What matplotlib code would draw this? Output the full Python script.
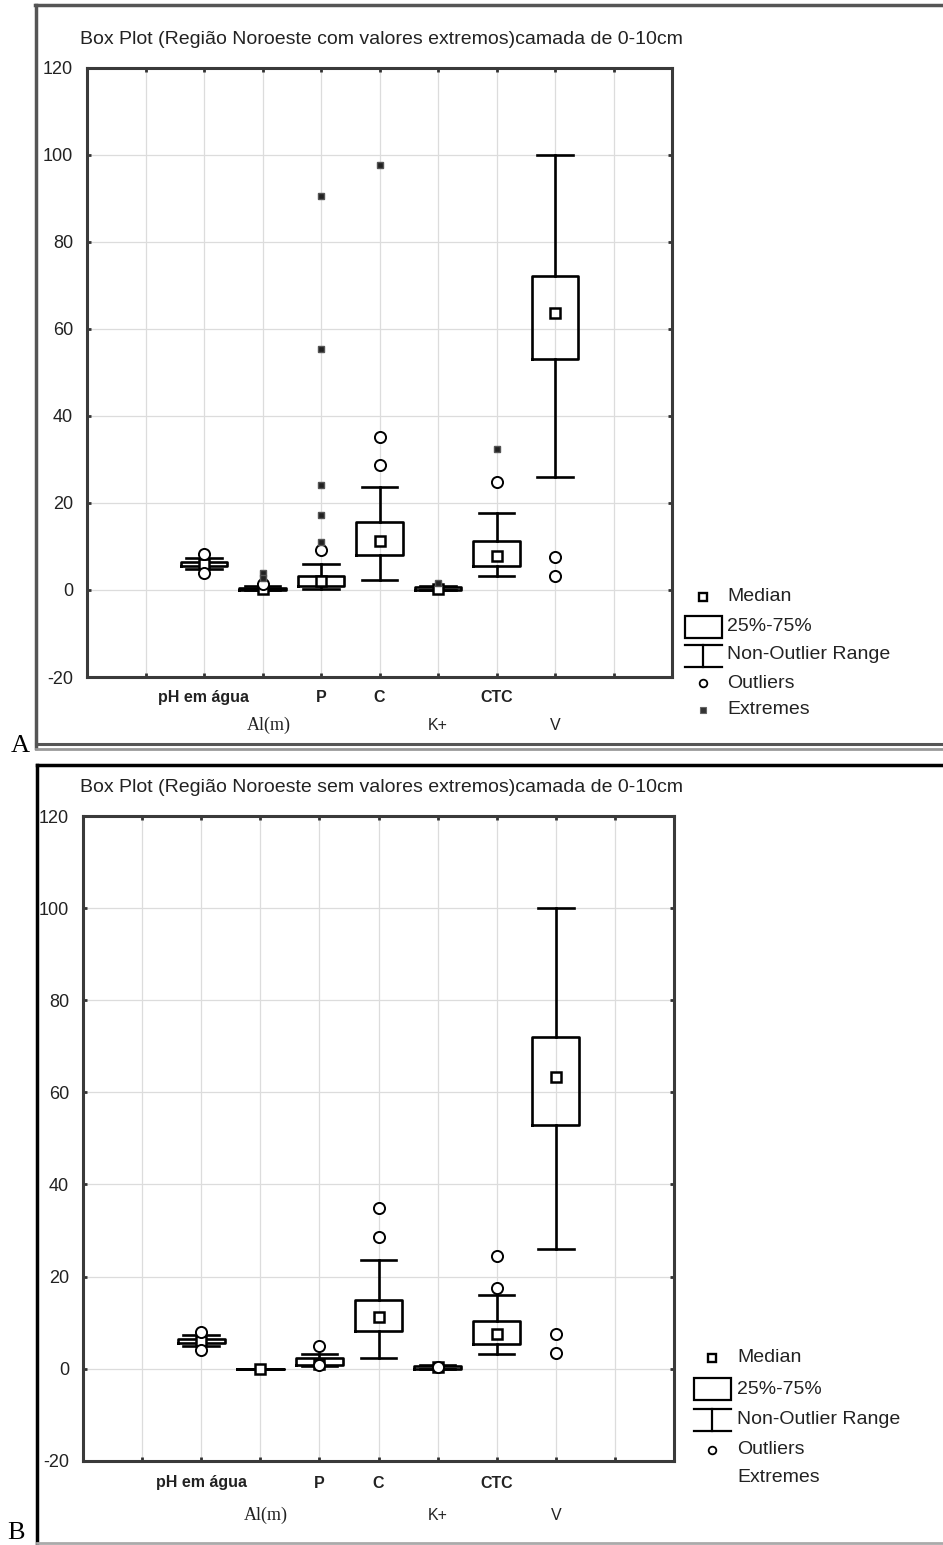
import matplotlib
matplotlib.use("Agg")
import matplotlib.pyplot as plt
from matplotlib.lines import Line2D
from matplotlib.patches import Rectangle
from matplotlib.transforms import blended_transform_factory

# ---------------- data ----------------
categories = ["pH em água", "Al(m)", "P", "C", "K+", "CTC", "V"]
label_row = [1, 2, 1, 1, 2, 1, 2]          # which line of tick labels
positions = [2, 3, 4, 5, 6, 7, 8]
y_ticks = [-20, 0, 20, 40, 60, 80, 100, 120]

# Panel A (com valores extremos)
q1_a = [5.4, 0.0, 0.8, 8.1, 0.0, 5.4, 53.0]
med_a = [6.0, 0.2, 2.1, 11.3, 0.3, 7.9, 63.5]
q3_a = [6.5, 0.5, 3.2, 15.6, 0.6, 11.3, 72.0]
wlo_a = [4.8, 0.0, 0.3, 2.2, 0.0, 3.2, 26.0]
whi_a = [7.3, 1.0, 5.9, 23.7, 1.0, 17.7, 100.0]
out_a = [[8.2, 4.0], [1.4], [9.2], [28.7, 35.1], [], [24.7], [7.5, 3.1]]
ext_a = [[], [4.0, 2.7], [11.1, 17.3, 24.0, 55.3, 90.5], [97.5], [1.7], [32.4], []]

# Panel B (sem valores extremos)
q1_b = [5.5, 0.0, 0.8, 8.2, 0.0, 5.4, 53.0]
med_b = [6.0, 0.0, 1.0, 11.3, 0.3, 7.6, 63.3]
q3_b = [6.5, 0.0, 2.4, 14.9, 0.5, 10.3, 72.0]
wlo_b = [4.8, 0.0, 0.5, 2.2, 0.0, 3.1, 26.0]
whi_b = [7.3, 0.0, 3.2, 23.5, 0.8, 15.9, 100.0]
out_b = [[8.0, 4.0], [], [4.9, 0.8], [28.6, 34.8], [0.4], [17.6, 24.5], [7.5, 3.3]]
ext_b = [[], [], [], [], [], [], []]

title_a = "Box Plot (Região Noroeste com valores extremos)camada de 0-10cm"
title_b = "Box Plot (Região Noroeste sem valores extremos)camada de 0-10cm"
legend_labels = ["Median", "25%-75%", "Non-Outlier Range", "Outliers", "Extremes"]

# ---------------- layout ----------------
W, H = 943, 1545
fig = plt.figure(figsize=(W / 100, H / 100), dpi=100)
fig.patch.set_facecolor("white")
SANS = ["Liberation Sans", "DejaVu Sans"]
SERIF = ["Liberation Serif", "DejaVu Serif"]


def fx(x):
    return x / W


def fy(y):
    return 1 - y / H


def fline(xs, ys, **kw):
    fig.add_artist(Line2D([fx(v) for v in xs], [fy(v) for v in ys],
                          transform=fig.transFigure, **kw))


def draw_panel(box, q1, med, q3, wlo, whi, outs, exts, title, title_y,
               row_y, leg, show_ext_marker):
    x0, x1, ytop, ybot = box
    ax = fig.add_axes([fx(x0), fy(ybot), fx(x1) - fx(x0), fy(ytop) - fy(ybot)])

    stats = []
    for i in range(len(categories)):
        stats.append(dict(med=med[i], q1=q1[i], q3=q3[i], whislo=wlo[i],
                          whishi=whi[i], fliers=[]))
    ax.bxp(stats, positions=positions, widths=0.8, capwidths=0.6,
           showfliers=False, manage_ticks=False,
           boxprops=dict(color="black", linewidth=1.9),
           whiskerprops=dict(color="black", linewidth=1.9),
           capprops=dict(color="black", linewidth=1.9),
           medianprops=dict(linestyle="none"))
    ax.plot(positions, med, linestyle="none", marker="s", markersize=7,
            mfc="white", mec="black", mew=1.8, zorder=5)
    for p, vals in zip(positions, outs):
        if vals:
            ax.plot([p] * len(vals), vals, linestyle="none", marker="o",
                    markersize=8, mfc="white", mec="black", mew=1.4, zorder=5)
    for p, vals in zip(positions, exts):
        if vals:
            ax.plot([p] * len(vals), vals, linestyle="none", marker="s",
                    markersize=4.5, mfc="#222222", mec="#555555", mew=1.0,
                    zorder=5)

    ax.set_xlim(0, 10)
    ax.set_ylim(-20, 120)
    ax.set_xticks(range(1, 10))
    ax.set_xticklabels([])
    ax.set_yticks(y_ticks)
    ax.set_yticklabels([str(v) for v in y_ticks], fontsize=13, family=SANS,
                       color="#222222")
    ax.grid(True, color="#dcdcdc", linewidth=0.9)
    ax.set_axisbelow(True)
    ax.tick_params(direction="in", length=3, width=2, top=True, right=True,
                   color="#333333", pad=10)
    for s in ax.spines.values():
        s.set_color("#3a3a3a")
        s.set_linewidth(2.2)

    # category labels, two rows
    tr = blended_transform_factory(ax.transData, fig.transFigure)
    for p, lab, r in zip(positions, categories, label_row):
        if lab == "Al(m)":
            ax.text(p + 0.1, fy(row_y[1]), lab, transform=tr, ha="center",
                    va="center", fontsize=13, family=SERIF, color="#222222")
        else:
            ax.text(p, fy(row_y[r - 1]), lab, transform=tr, ha="center",
                    va="center", fontsize=11.5, family=SANS, color="#222222",
                    fontweight="bold" if r == 1 else "normal")

    fig.text(fx(80), fy(title_y), title, ha="left", va="center", fontsize=14,
             family=SANS, color="#222222")

    # legend
    mx, tx, ys, bx0, bx1 = leg
    fs = 14
    fig.add_artist(Line2D([fx(mx)], [fy(ys[0])], transform=fig.transFigure,
                          marker="s", markersize=5.5, mfc="white", mec="black",
                          mew=1.7, linestyle="none"))
    fig.add_artist(Rectangle((fx(bx0), fy(ys[1] + 11)), fx(bx1) - fx(bx0),
                             fy(ys[1] - 11) - fy(ys[1] + 11),
                             transform=fig.transFigure, fill=False,
                             edgecolor="black", linewidth=1.6))
    fline([bx0, bx1], [ys[2] - 10, ys[2] - 10], color="black", linewidth=1.6)
    fline([mx, mx], [ys[2] - 10, ys[2] + 12], color="black", linewidth=1.6)
    fline([bx0, bx1], [ys[2] + 12, ys[2] + 12], color="black", linewidth=1.6)
    fig.add_artist(Line2D([fx(mx)], [fy(ys[3])], transform=fig.transFigure,
                          marker="o", markersize=5.5, mfc="white", mec="black",
                          mew=1.3, linestyle="none"))
    if show_ext_marker:
        fig.add_artist(Line2D([fx(mx)], [fy(ys[4])], transform=fig.transFigure,
                              marker="s", markersize=3.8, mfc="#333333",
                              mec="#666666", mew=0.8, linestyle="none"))
    for lab, y in zip(legend_labels, ys):
        fig.text(fx(tx), fy(y), lab, ha="left", va="center", fontsize=fs,
                 family=SANS, color="#222222")
    return ax


draw_panel((87, 672, 67.5, 677), q1_a, med_a, q3_a, wlo_a, whi_a, out_a, ext_a,
           title_a, 40, (698, 725),
           (703, 727, [597, 627, 655, 683, 710], 685, 722), True)
draw_panel((83, 674, 816, 1460.7), q1_b, med_b, q3_b, wlo_b, whi_b, out_b, ext_b,
           title_b, 787, (1483, 1515),
           (712, 737, [1358, 1389, 1419, 1450, 1478], 694, 731), False)

# panel frames
fline([35, 943], [5, 5], color="#555555", linewidth=2.5)
fline([36, 36], [5, 748], color="#555555", linewidth=2.5)
fline([36, 943], [744, 744], color="#555555", linewidth=2.2)
fline([36, 943], [749, 749], color="#999999", linewidth=2.0)
fline([37, 943], [765, 765], color="black", linewidth=2.5)
fline([37, 37], [765, 1545], color="black", linewidth=2.5)
fline([37, 943], [1543, 1543], color="#aaaaaa", linewidth=2.0)

fig.text(fx(11), fy(746), "A", ha="left", va="center", fontsize=19,
         family=SERIF, color="black")
fig.text(fx(7), fy(1533), "B", ha="left", va="center", fontsize=19,
         family=SERIF, color="black")

fig.savefig("out.png", dpi=100, facecolor="white")
